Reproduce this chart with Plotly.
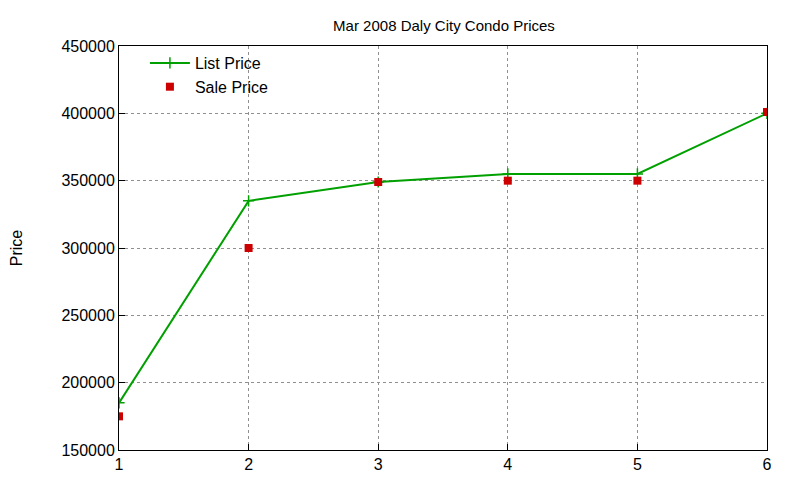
import plotly.graph_objects as go

# values
days = [1, 2, 3, 4, 5, 6]
list_price = [185000, 335000, 349000, 355000, 355000, 400000]
sale_price = [175000, 300000, 349000, 350000, 350000, 401000]

fig = go.Figure()
fig.add_trace(go.Scatter(x=days, y=list_price, name="List Price", mode="lines+markers",
                         line=dict(color="#00a000", width=2),
                         marker=dict(symbol="cross-thin", size=8, line=dict(color="#00a000", width=1.5))))
fig.add_trace(go.Scatter(x=days, y=sale_price, name="Sale Price", mode="markers",
                         marker=dict(symbol="square", size=8, color="#cc0000")))

axis = dict(showline=True, mirror=True, linecolor="black", linewidth=1,
            ticks="inside", ticklen=6, tickcolor="black",
            showgrid=True, gridcolor="#909090", griddash="dot", gridwidth=1,
            zeroline=False, tickfont=dict(size=16, color="black"))

fig.update_layout(
    width=800, height=480,
    paper_bgcolor="white", plot_bgcolor="white",
    font=dict(family="Liberation Sans, Arial, sans-serif", color="black"),
    title=dict(text="Mar 2008 Daly City Condo Prices", x=0.545, y=0.975, xanchor="center",
               font=dict(size=15)),
    margin=dict(l=111, r=41, t=38, b=38, autoexpand=False),
    xaxis=dict(range=[1, 6], dtick=1, **axis),
    yaxis=dict(range=[150000, 450000], dtick=50000, tickformat="d", exponentformat="none",
               title=dict(text="Price", font=dict(size=16), standoff=45), **axis),
    legend=dict(x=0.04, y=1.0, xanchor="left", yanchor="top", bgcolor="rgba(0,0,0,0)",
                font=dict(size=16), tracegroupgap=0, itemwidth=40),
    showlegend=True,
)
fig.write_html("out.html")
